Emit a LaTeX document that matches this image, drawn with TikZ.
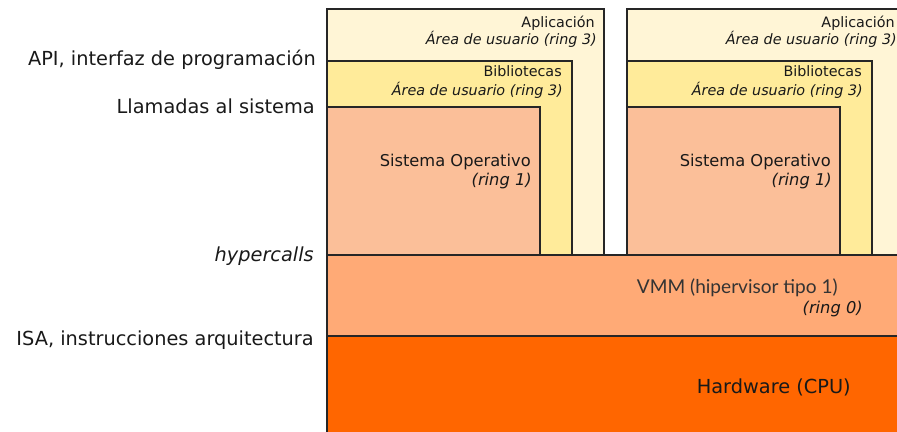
\documentclass[tikz,border=0pt]{standalone}
\usepackage{fontspec}
\setmainfont{DejaVu Sans}
\newfontfamily\vmmfont{Lato}
\usepackage{xcolor}
\definecolor{apli}{HTML}{FFF5D6}
\definecolor{bibl}{HTML}{FFEB9A}
\definecolor{sisop}{HTML}{FBBF99}
\definecolor{vmm}{HTML}{FFAA76}
\definecolor{hard}{HTML}{FF6600}
\tikzset{
  capa/.style={draw=black!85,line width=1pt},
  etiq/.style={anchor=base east,inner sep=0pt,text=black!90,font=\fontsize{14.5}{17}\selectfont},
  rotulo/.style={anchor=base east,inner sep=0pt,text=black!90,font=\fontsize{10.75}{13}\selectfont},
  rotuloit/.style={rotulo,font=\fontsize{10.75}{13}\selectfont\itshape},
  sotexto/.style={anchor=base east,inner sep=0pt,text=black!90,font=\fontsize{12.2}{15}\selectfont}
}

\begin{document}
\begin{tikzpicture}[x=0.75pt,y=-0.75pt]
\useasboundingbox (0,0) rectangle (897,432);
\clip (0,0) rectangle (897,432);
\foreach \dx in {0,300} {
  \draw[capa,fill=apli] (327+\dx,9) rectangle (604+\dx,255);
  \draw[capa,fill=bibl] (327+\dx,61) rectangle (572+\dx,255);
  \draw[capa,fill=sisop] (327+\dx,107) rectangle (540+\dx,255);
  \node[rotulo] (apl\dx) at (595+\dx,27) {Aplicación};
  \node[rotuloit] (aplr\dx) at (597+\dx,45) {Área de usuario (ring 3)};
  \node[rotulo] (bib\dx) at (562+\dx,76) {Bibliotecas};
  \node[rotuloit] (bibr\dx) at (563+\dx,95) {Área de usuario (ring 3)};
  \node[sotexto] (so\dx) at (531+\dx,166) {Sistema Operativo};
  \node[sotexto,font=\fontsize{12.2}{15}\selectfont\itshape] (sor\dx) at (532+\dx,185) {(ring 1)};
}
\draw[capa,fill=vmm] (327,255) rectangle (910,336);
\draw[capa,fill=hard] (327,336) rectangle (910,445);
\node[anchor=base east,inner sep=0pt,text=black!80,font=\vmmfont\fontsize{14.3}{17}\selectfont] (hiper) at (838,293) {VMM (hipervisor tipo 1)};
\node[sotexto,font=\fontsize{12.2}{15}\selectfont\itshape] (hiperr) at (863,313) {(ring 0)};
\node[etiq] (cpu) at (851,393) {Hardware (CPU)};
\node[etiq] (api) at (316,65) {API, interfaz de programación};
\node[etiq] (llam) at (315,113) {Llamadas al sistema};
\node[etiq,font=\fontsize{14.5}{17}\selectfont\itshape] (hyp) at (314,261) {hypercalls};
\node[etiq] (isa) at (314,345) {ISA, instrucciones arquitectura};
\end{tikzpicture}
\end{document}
